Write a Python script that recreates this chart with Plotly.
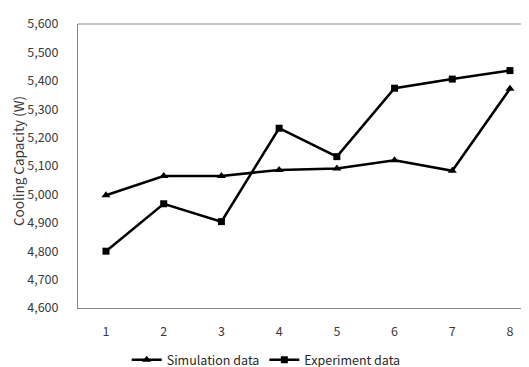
import plotly.graph_objects as go

x_labels = ["1", "2", "3", "4", "5", "6", "7", "8"]
x_vals = [1, 2, 3, 4, 5, 6, 7, 8]
simulation = [4997, 5065, 5065, 5086, 5091, 5120, 5083, 5372]
experiment = [4800, 4967, 4904, 5233, 5133, 5374, 5406, 5436]
y_ticks = [4600, 4700, 4800, 4900, 5000, 5100, 5200, 5300, 5400, 5500, 5600]
y_title = "Cooling Capacity (W)"

FONT = "Noto Sans CJK KR, Noto Sans, sans-serif"

fig = go.Figure()
fig.add_trace(go.Scatter(
    x=x_vals, y=simulation, name="Simulation data", mode="lines+markers",
    line=dict(color="black", width=2.5),
    marker=dict(symbol="triangle-up", size=8, color="black"),
))
fig.add_trace(go.Scatter(
    x=x_vals, y=experiment, name="Experiment data", mode="lines+markers",
    line=dict(color="black", width=2.5),
    marker=dict(symbol="square", size=7, color="black"),
))

fig.update_layout(
    width=529, height=367,
    margin=dict(l=70, r=0, t=16, b=57),
    paper_bgcolor="white", plot_bgcolor="white",
    font=dict(family=FONT, size=12, color="#3a3a3a"),
    showlegend=True,
    legend=dict(orientation="h", x=0.41, xanchor="center", y=-0.185, yanchor="middle",
                font=dict(size=12.5, color="#2a2a2a"), itemwidth=30,
                tracegroupgap=0),
    xaxis=dict(
        range=[0.515, 8.468], tickmode="array", tickvals=x_vals, ticktext=x_labels,
        showgrid=False, zeroline=False, showline=True, linecolor="#888888", linewidth=1,
        mirror=False, ticks="", ticklabelstandoff=12, tickfont=dict(size=12.5),
    ),
    yaxis=dict(
        range=[4600, 5600], tickmode="array", tickvals=y_ticks,
        ticktext=[f"{v:,}" for v in y_ticks],
        showgrid=False, zeroline=False, showline=True, linecolor="#888888", linewidth=1,
        ticks="", ticklabelstandoff=16, tickfont=dict(size=12.5),
    ),
    annotations=[dict(
        text=y_title, textangle=-90, xref="paper", yref="paper",
        x=-0.131, y=0.517, xanchor="center", yanchor="middle", showarrow=False,
        font=dict(size=13.5, color="#3a3a3a"),
    )],
)
fig.add_shape(type="line", xref="paper", yref="paper", x0=0, x1=1, y0=1, y1=1,
              line=dict(color="#888888", width=1))

fig.write_html("out.html")
